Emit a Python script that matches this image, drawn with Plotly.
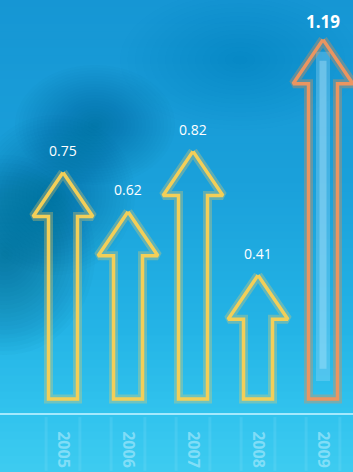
import plotly.graph_objects as go

# ---- data ----
years = ["2005", "2006", "2007", "2008", "2009"]
values = [0.75, 0.62, 0.82, 0.41, 1.19]
labels = ["0.75", "0.62", "0.82", "0.41", "1.19"]

W, H = 353, 472
MB = 59  # bottom margin (px)
PLOT_H = H - MB

# arrow geometry (data units)
HW = 0.46   # head half width
SW = 0.223  # shaft half width
HH = 0.146  # head height

fig = go.Figure()

# ---- background gradient (paper coords) ----
def lerp(a, b, t):
    return tuple(int(round(a[k] + (b[k] - a[k]) * t)) for k in range(3))

stops = [(0, (22, 150, 212)), (180, (26, 160, 218)), (330, (36, 180, 230)),
         (420, (50, 196, 238)), (472, (62, 204, 240))]

def color_at(py):
    for (p0, c0), (p1, c1) in zip(stops[:-1], stops[1:]):
        if p0 <= py <= p1:
            return lerp(c0, c1, (py - p0) / (p1 - p0))
    return stops[-1][1]

shapes = []
nb = 59
for k in range(nb):
    py0 = H * k / nb
    py1 = H * (k + 1) / nb
    c = color_at((py0 + py1) / 2)
    shapes.append(dict(type="rect", xref="paper", yref="paper", layer="below",
                       x0=0, x1=1,
                       y0=(PLOT_H - py1) / PLOT_H - 0.001,
                       y1=(PLOT_H - py0) / PLOT_H + 0.001,
                       fillcolor="rgb(%d,%d,%d)" % c, line=dict(width=0)))

# soft dark blobs (blur approximated by stacked translucent circles)
def blob(cx, cy, rx, ry, rgb, n=14, op=0.05):
    for j in range(n):
        f = 1 - j / n
        shapes.append(dict(type="circle", xref="paper", yref="paper", layer="below",
                           x0=(cx - rx * f) / W, x1=(cx + rx * f) / W,
                           y0=(PLOT_H - (cy + ry * f)) / PLOT_H,
                           y1=(PLOT_H - (cy - ry * f)) / PLOT_H,
                           fillcolor="rgba(%d,%d,%d,%.3f)" % (rgb + (op,)),
                           line=dict(width=0)))

blob(5, 255, 90, 100, (8, 80, 130), n=24, op=0.032)
blob(95, 125, 80, 60, (8, 80, 130), n=22, op=0.025)
blob(55, 195, 80, 80, (8, 80, 130), n=22, op=0.022)
blob(240, 60, 120, 70, (10, 110, 170), n=16, op=0.012)

# faint vertical reflections below the baseline
for i in range(len(years)):
    for dx in (-0.26, 0.26):
        shapes.append(dict(type="line", xref="x", yref="paper", layer="below",
                           x0=i + dx, x1=i + dx, y0=-0.01, y1=-0.14,
                           line=dict(color="rgba(190,240,255,0.12)", width=3)))

# ---- arrows ----
for i, v in enumerate(values):
    xs = [i, i + HW, i + SW, i + SW, i - SW, i - SW, i - HW, i]
    ys = [v, v - HH, v - HH, 0, 0, v - HH, v - HH, v]
    last = i == len(values) - 1
    glow = "rgba(240,140,70,0.35)" if last else "rgba(255,205,90,0.30)"
    main = "#ec9560" if last else "#f3cf58"
    if last:
        fig.add_trace(go.Scatter(x=[i, i], y=[0.06, v - 0.04], mode="lines",
                                 line=dict(color="rgba(150,215,245,0.35)", width=14),
                                 hoverinfo="skip", showlegend=False))
        fig.add_trace(go.Scatter(x=[i, i], y=[0.1, v - 0.07], mode="lines",
                                 line=dict(color="rgba(190,235,255,0.35)", width=7),
                                 hoverinfo="skip", showlegend=False))
    fig.add_trace(go.Scatter(x=xs, y=ys, mode="lines",
                             line=dict(color=glow, width=9, shape="linear"),
                             hoverinfo="skip", showlegend=False))
    fig.add_trace(go.Scatter(x=xs, y=ys, mode="lines",
                             line=dict(color=main, width=3.5),
                             hoverinfo="skip", showlegend=False))

# ---- value labels ----
annotations = []
for i, (v, t) in enumerate(zip(values, labels)):
    last = i == len(values) - 1
    annotations.append(dict(x=i, y=v, xref="x", yref="y", text=t, showarrow=False,
                            yanchor="middle", yshift=18 if last else 22,
                            font=dict(family="Open Sans", size=17 if last else 14,
                                      color="white",
                                      weight="bold" if last else "normal")))

# px -> data mapping: x center of arrow i at 63 + 65*i px; y=0 at 399 px, 302 px/unit
x0 = -63 / 65
x1 = (W - 63) / 65
y_top = 399 / 302
y_bot = (399 - PLOT_H) / 302

fig.update_layout(
    width=W, height=H,
    margin=dict(l=0, r=0, t=0, b=MB),
    paper_bgcolor="rgb(40,185,232)",
    plot_bgcolor="rgba(0,0,0,0)",
    shapes=shapes,
    annotations=annotations,
    xaxis=dict(range=[x0, x1], tickvals=list(range(len(years))), ticktext=years,
               tickangle=90, showgrid=False, zeroline=False,
               showline=True, linecolor="rgba(185,240,255,0.85)", linewidth=2,
               ticks="", ticklabelstandoff=13,
               tickfont=dict(family="Open Sans", size=16,
                             color="rgba(200,242,255,0.5)", weight="bold"),
               fixedrange=True),
    yaxis=dict(range=[y_bot, y_top], showgrid=False, zeroline=False,
               showticklabels=False, fixedrange=True),
)

fig.write_html("out.html")
